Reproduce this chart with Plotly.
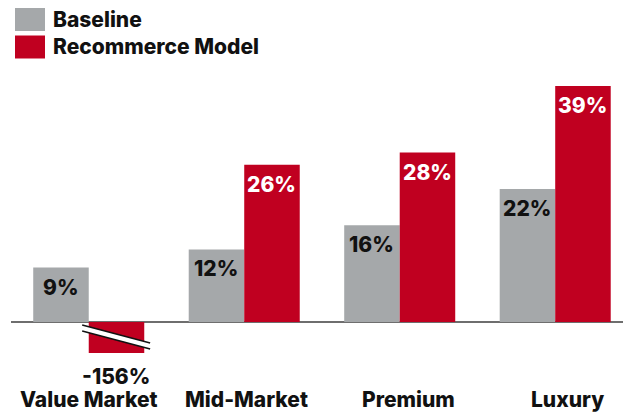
import plotly.graph_objects as go

# data
categories = ["Value Market", "Mid-Market", "Premium", "Luxury"]
baseline = [9, 12, 16, 22]
recommerce = [-156, 26, 28, 39]
label_shift = [0, 2, 9, 12]  # category labels sit slightly right of the groups

GRAY = "#A5A8AA"
RED = "#C00020"
FONT = "Inter"
FW = 800
FS = 21

W, H = 623, 414
L, R, T, B = 11, 0, 80, 61
Y_MIN, Y_MAX = -5.12, 40.0


def px_x(p):
    return (p - L) / (W - L - R)


def px_y(p):
    return (H - B - p) / (H - T - B)


fig = go.Figure()
fig.add_trace(go.Bar(name="Baseline", x=categories, y=baseline, marker_color=GRAY,
                     marker_line_width=0, hoverinfo="x+y"))
fig.add_trace(go.Bar(name="Recommerce Model", x=categories, y=recommerce, marker_color=RED,
                     marker_line_width=0, hoverinfo="x+y"))

annotations = []
bar_off = 27.75
for i, cat in enumerate(categories):
    # baseline label
    annotations.append(dict(x=cat, y=baseline[i], xref="x", yref="y", text=f"{baseline[i]}%",
                            showarrow=False, xshift=-bar_off, yanchor="top", yshift=-5,
                            font=dict(family=FONT, size=FS, color="#111111", weight=FW)))
    v = recommerce[i]
    if v >= Y_MIN:
        annotations.append(dict(x=cat, y=v, xref="x", yref="y", text=f"{v}%",
                                showarrow=False, xshift=bar_off, yanchor="top", yshift=-5,
                                font=dict(family=FONT, size=FS, color="white", weight=FW)))
    else:
        # truncated bar: label below the cut
        annotations.append(dict(x=cat, y=Y_MIN, xref="x", yref="y", text=f"{v}%",
                                showarrow=False, xshift=bar_off, yanchor="top", yshift=-9,
                                font=dict(family=FONT, size=FS, color="#111111", weight=FW)))
    annotations.append(dict(x=cat, y=px_y(H), xref="x", yref="paper", text=cat,
                            showarrow=False, xshift=label_shift[i], yanchor="bottom",
                            font=dict(family=FONT, size=FS, color="#111111", weight=FW)))

# legend drawn by hand
shapes = []
for name, color, cy in [("Baseline", GRAY, 19.5), ("Recommerce Model", RED, 47)]:
    shapes.append(dict(type="rect", xref="paper", yref="paper",
                       x0=px_x(15), x1=px_x(45), y0=px_y(cy + 11.5), y1=px_y(cy - 11.5),
                       fillcolor=color, line_width=0))
    annotations.append(dict(x=px_x(51), y=px_y(cy), xref="paper", yref="paper", text=name,
                            showarrow=False, xanchor="left", yanchor="middle",
                            font=dict(family=FONT, size=FS, color="#111111", weight=FW)))

# break marks on the truncated bar
bx0, bx1 = -0.042, 0.395
shapes.append(dict(type="path", xref="x", yref="y",
                   path=f"M {bx0},-0.5 L {bx1},-3.47 L {bx1},-4.46 L {bx0},-1.49 Z",
                   fillcolor="white", line_width=0))
for y0, y1 in [(-0.5, -3.47), (-1.49, -4.46)]:
    shapes.append(dict(type="line", xref="x", yref="y", x0=bx0, y0=y0, x1=bx1, y1=y1,
                       line=dict(color="#111111", width=1.5)))

fig.update_layout(
    width=W, height=H,
    margin=dict(l=L, r=R, t=T, b=B),
    plot_bgcolor="white", paper_bgcolor="white",
    barmode="group", bargap=0.286, bargroupgap=0,
    showlegend=False,
    annotations=annotations,
    shapes=shapes,
    xaxis=dict(range=[-0.5, 3.436], showticklabels=False, showgrid=False, zeroline=False,
               showline=False, ticks=""),
    yaxis=dict(range=[Y_MIN, Y_MAX], showticklabels=False, showgrid=False, zeroline=True,
               zerolinecolor="#6E6E6E", zerolinewidth=1.5, showline=False, ticks=""),
)

# the page body has a default margin; drop it so the figure fills the window
fig.write_html("out.html", config={"displayModeBar": False},
               post_script="document.body.style.margin='0';")
